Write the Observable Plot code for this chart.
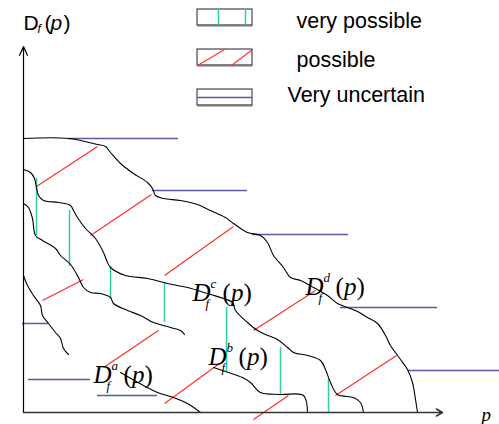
<!DOCTYPE html>
<html><head><meta charset="utf-8">
<script src="https://cdn.jsdelivr.net/npm/d3@7"></script>
<script src="https://cdn.jsdelivr.net/npm/@observablehq/plot@0.6"></script>
<style>body{margin:0;background:#fff} #chart{width:499px;height:424px}</style>
</head><body><div id="chart"></div>
<script>
// ---- data (p, D) ----
const curveD = [[0,274],[45,274],[74,268],[82,266],[87,260],[97,249],[110,239],[124,230],[129,224],[132,217],[140,214],[157,212],[174,208],[187,202],[202,195],[210,189],[224,180],[237,177],[244,170],[250,157],[260,145],[267,135],[277,132],[290,125],[304,117],[314,109],[324,105],[334,101],[344,95],[354,89],[362,77],[367,67],[377,53],[384,43],[389,30],[392,13],[394,0]];
const curveC = [[0,243],[7,240],[11,234],[13,225],[15,217],[20,212],[35,210],[47,207],[50,202],[54,195],[62,184],[72,174],[80,160],[84,150],[87,145],[102,137],[124,134],[144,129],[164,125],[187,118],[200,114],[209,110],[212,102],[224,90],[234,82],[242,78],[254,73],[264,65],[270,60],[284,57],[297,52],[302,43],[307,30],[314,18],[330,15],[337,10],[340,0]];
const curveB1 = [[0,209],[5,205],[9,194],[12,177],[19,172],[32,164],[37,157],[47,148],[55,135],[60,125],[67,120],[77,119],[87,115],[90,109],[104,102],[117,97],[130,90],[147,85],[157,82],[161,78]];
const curveB2 = [[190,45],[205,40],[219,35],[227,30],[237,20],[257,18],[280,17],[284,0]];
const curveA1 = [[0,137],[4,127],[10,117],[17,107],[19,97],[25,89],[32,80],[37,74],[40,64],[45,58]];
const curveA2 = [[97,40],[120,27],[134,20],[150,15],[164,9],[177,0]];
// very uncertain: [p1, p2, D]
const uncertain = [[45,155,274],[129,224,222],[229,325,178],[317,414,105],[385,476,42],[-1,25,89],[5,67,33],[74,134,17]];
// possible: [p1, D1, p2, D2]
const possible = [[13,226,74,266],[67,177,128,218],[141,137,210,186],[19,112,60,133],[80,45,135,82],[141,9,196,49],[230,82,292,122],[312,17,373,57],[230,-7,265,17]];
// very possible: [p, D1, D2]
const veryPossible = [[13,234,177],[46,202,146],[87,146,114],[141,130,90],[203,105,41],[257,65,17],[305,33,0]];
const labelKeys = ["a","b","c","d"];
const labelP = [70,185,169,282];
const labelD = [30,48,112,118];
const legendLabels = ["very possible","possible","Very uncertain"];

// ---- build tables ----
const pts = (arr,id) => arr.map(([p,D]) => ({p,D,id}));
const curves = [...pts(curveD,"d"),...pts(curveC,"c"),...pts(curveB1,"b1"),...pts(curveB2,"b2"),...pts(curveA1,"a1"),...pts(curveA2,"a2")];
const labels = labelKeys.map((k,i)=>({k,p:labelP[i],D:labelD[i]}));

// layout
const pMax = 419, dMax = 366;
const boxX1 = 174, boxX2 = 229;
const boxTop = [403,363,323];
const legend = legendLabels.map((label,i)=>({label, top:boxTop[i], tx:[273,273,264][i], ty:[385,346,311][i]}));

const serif = "'Liberation Serif', 'Times New Roman', serif";
const sans = "'Liberation Sans', Arial, Helvetica, sans-serif";
const BLUE = "#5a5aad", RED = "#ff2a2a", TEAL = "#2fd3a3";

const lblText = (text, dx, dy, size, style) => Plot.text(labels, {x:"p", y:"D", text, dx, dy, fontSize:size, fontStyle:style, fontFamily:serif, textAnchor:"start", lineAnchor:"bottom", fill:"#000"});

const chart = Plot.plot({
  width:499, height:424, margin:0,
  x:{domain:[-23,476], axis:null},
  y:{domain:[-12,412], axis:null},
  style:{background:"#fff"},
  marks:[
    // uncertain (blue)
    Plot.ruleY(uncertain, {y:d=>d[2], x1:d=>d[0], x2:d=>d[1], stroke:BLUE, strokeWidth:1.5}),
    // possible (red)
    Plot.link(possible, {x1:d=>d[0], y1:d=>d[1], x2:d=>d[2], y2:d=>d[3], stroke:RED, strokeWidth:1.1}),
    // very possible (teal)
    Plot.ruleX(veryPossible, {x:d=>d[0], y1:d=>d[1], y2:d=>d[2], stroke:TEAL, strokeWidth:1.5}),
    // curves
    Plot.line(curves, {x:"p", y:"D", z:"id", curve:"catmull-rom", stroke:"#000", strokeWidth:1.1}),
    // axes
    Plot.arrow([0], {x1:()=>0, y1:()=>0, x2:()=>0, y2:()=>dMax, headLength:12, headAngle:48, stroke:"#000", strokeWidth:1.2}),
    Plot.arrow([0], {x1:()=>0, y1:()=>0, x2:()=>pMax, y2:()=>0, headLength:7, headAngle:60, stroke:"#333", strokeWidth:1.5}),
    // curve labels
    lblText(()=>"D", 0, 0, 25, "italic"),
    lblText("k", 18, -13, 13, "italic"),
    lblText(()=>"f", 13, 7, 13, "italic"),
    lblText(()=>"(", 30, 0, 25, "normal"),
    lblText(()=>"p", 38.5, 0, 25, "italic"),
    lblText(()=>")", 51, 0, 25, "normal"),
    // axis labels
    Plot.text(["p"], {x:()=>458, y:()=>-8, text:d=>d, fontFamily:serif, fontStyle:"italic", fontSize:19, textAnchor:"start", lineAnchor:"bottom"}),
    Plot.text(["D"], {x:()=>0, y:()=>383, text:d=>d, fontFamily:sans, fontSize:21, textAnchor:"start", lineAnchor:"bottom"}),
    Plot.text(["f"], {x:()=>14, y:()=>380, text:d=>d, fontFamily:sans, fontStyle:"italic", fontSize:12, textAnchor:"start", lineAnchor:"bottom"}),
    Plot.text(["("], {x:()=>21, y:()=>383, text:d=>d, fontFamily:sans, fontSize:21, textAnchor:"start", lineAnchor:"bottom"}),
    Plot.text(["p"], {x:()=>27, y:()=>383, text:d=>d, fontFamily:sans, fontStyle:"italic", fontSize:21, textAnchor:"start", lineAnchor:"bottom"}),
    Plot.text([")"], {x:()=>40, y:()=>383, text:d=>d, fontFamily:sans, fontSize:21, textAnchor:"start", lineAnchor:"bottom"}),
    // legend
    Plot.rect(legend, {x1:()=>boxX1, x2:()=>boxX2, y1:d=>d.top-16, y2:d=>d.top, fill:"#fff", stroke:"#222", strokeWidth:1}),
    Plot.ruleY(legend, {y:d=>d.top-16, x1:()=>boxX1, x2:()=>boxX2+0.5, stroke:"#777", strokeWidth:2}),
    Plot.ruleX([195,222], {x:d=>d, y1:()=>boxTop[0]-16, y2:()=>boxTop[0], stroke:TEAL, strokeWidth:1.5}),
    Plot.link([[174,201],[208,229]], {x1:d=>d[0], x2:d=>d[1], y1:()=>boxTop[1]-16, y2:()=>boxTop[1], stroke:RED, strokeWidth:1.1}),
    Plot.ruleY([0], {y:()=>boxTop[2]-8, x1:()=>boxX1, x2:()=>boxX2, stroke:BLUE, strokeWidth:1.5}),
    Plot.text(legend, {x:"tx", y:"ty", text:"label", fontFamily:sans, fontSize:21.5, textAnchor:"start", lineAnchor:"bottom", fill:"#000"})
  ]
});
document.getElementById("chart").appendChild(chart);
</script></body></html>
